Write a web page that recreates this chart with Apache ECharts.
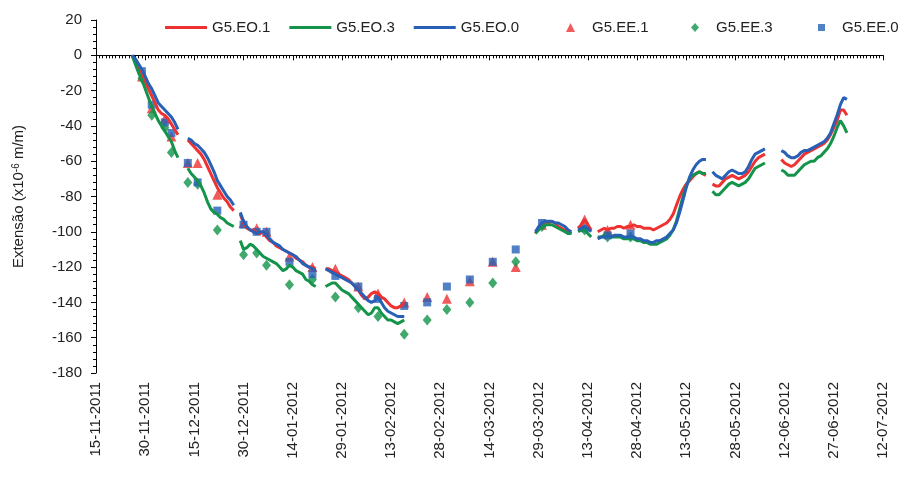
<!DOCTYPE html>
<html>
<head>
<meta charset="utf-8">
<script src="https://cdn.jsdelivr.net/npm/echarts@6/dist/echarts.min.js"></script>
<style>
  html, body { margin: 0; padding: 0; background: #ffffff; }
  #chart { width: 908px; height: 477px; }
</style>
</head>
<body>
<div id="chart"></div>
<script>
// Time span of the x axis (labels every 15 days)
const axisStart = '2011-11-15';
const axisEnd = '2012-07-12';
const tickStepDays = 15;

// Continuous records: each segment starts on the given date, one reading per day
const segmentStart = ['2011-11-26', '2011-12-13', '2011-12-29', '2012-01-24', '2012-03-28',
                      '2012-04-10', '2012-04-16', '2012-05-21', '2012-06-11'];

const eo1 = [
  [0, -4, -8, -11, -15, -19, -23, -27, -31, -33, -34, -36, -39, -42, -45],
  [-48, -50, -52, -54, -56, -59, -63, -67, -71, -75, -78, -81, -83, -86, -88],
  [-90, -95, -98, -99, -99, -101, -101, -100, -103, -105, -106, -108, -109, -110, -111, -112, -113, -115, -116, -117, -119, -120, -120, -121],
  [-121, -121, -122, -123, -124, -125, -126, -127, -129, -131, -133, -136, -138, -137, -135, -134, -135, -137, -138, -140, -142, -143, -143, -142, -140],
  [-101, -98, -96, -95, -95, -94, -95, -97, -98, -99, -100, -101],
  [-98, -96, -93, -96, -99],
  [-100, -99, -98, -99, -98, -98, -97, -97, -98, -97, -97, -96, -97, -97, -98, -98, -98, -99, -98, -97, -96, -95, -93, -90, -85, -80, -76, -73, -71, -69, -67, -66, -67, -68],
  [-73, -74, -74, -72, -70, -69, -68, -69, -70, -69, -68, -66, -63, -60, -58, -57, -56],
  [-59, -61, -62, -63, -62, -60, -58, -56, -55, -54, -53, -52, -51, -50, -48, -45, -41, -37, -31, -31, -34]
];

const eo3 = [
  [0, -5, -10, -14, -19, -24, -29, -33, -37, -40, -43, -46, -49, -54, -58],
  [-64, -67, -69, -71, -74, -78, -83, -87, -89, -90, -92, -93, -95, -96, -97],
  [-105, -110, -109, -107, -108, -110, -112, -114, -115, -116, -117, -118, -120, -122, -121, -119, -120, -122, -123, -124, -127, -128, -130, -131],
  [-131, -130, -129, -129, -131, -133, -134, -135, -137, -139, -141, -143, -145, -147, -146, -143, -143, -146, -148, -150, -150, -151, -152, -151, -150],
  [-101, -99, -97, -96, -96, -96, -97, -98, -99, -100, -101, -101],
  [-100, -99, -99, -101, -103],
  [-103, -103, -102, -102, -103, -103, -103, -103, -104, -104, -104, -104, -105, -105, -106, -106, -107, -107, -107, -106, -105, -104, -102, -99, -94, -87, -80, -74, -70, -68, -67, -66, -67, -67],
  [-77, -79, -79, -77, -75, -73, -72, -73, -74, -73, -72, -70, -67, -64, -63, -62, -61],
  [-65, -66, -68, -68, -68, -66, -64, -62, -61, -60, -60, -58, -57, -55, -53, -50, -46, -41, -37, -40, -44]
];

const eo0 = [
  [0, -2, -5, -8, -12, -16, -19, -23, -27, -29, -31, -33, -35, -38, -42],
  [-47, -48, -50, -51, -53, -55, -58, -62, -66, -71, -74, -77, -80, -82, -85],
  [-89, -94, -97, -99, -100, -101, -100, -100, -102, -104, -106, -107, -108, -110, -111, -112, -113, -114, -116, -118, -119, -120, -121, -122],
  [-121, -122, -123, -124, -125, -126, -127, -128, -129, -131, -133, -135, -137, -139, -140, -139, -137, -140, -143, -145, -146, -147, -148, -148, -148],
  [-100, -97, -95, -94, -94, -94, -95, -95, -96, -97, -99, -100],
  [-99, -98, -97, -98, -100],
  [-104, -103, -103, -102, -103, -102, -102, -102, -103, -103, -103, -103, -104, -104, -105, -105, -106, -106, -105, -105, -104, -103, -101, -99, -95, -89, -82, -75, -69, -65, -62, -60, -59, -59],
  [-66, -68, -69, -70, -68, -66, -65, -66, -67, -67, -66, -63, -59, -56, -55, -54, -53],
  [-54, -55, -57, -58, -58, -57, -55, -54, -54, -53, -52, -51, -50, -49, -47, -44, -39, -34, -28, -24, -25]
];

// Periodic spot readings
const markerDates = ['2011-11-29', '2011-12-02', '2011-12-06', '2011-12-08', '2011-12-13', '2011-12-16',
  '2011-12-22', '2011-12-30', '2012-01-03', '2012-01-06', '2012-01-13', '2012-01-20', '2012-01-27',
  '2012-02-03', '2012-02-09', '2012-02-17', '2012-02-24', '2012-03-01', '2012-03-08', '2012-03-15',
  '2012-03-22', '2012-03-30', '2012-04-12', '2012-04-19', '2012-04-26'];
const ee1 = [-12, -30, -36, -46, -61, -61, -79, -95, -98, -100, -114, -120, -121, -131, -135, -140, -137, -138, -128, -117, -120, -96, -93, -99, -96];
const ee3 = [-13, -34, -41, -55, -72, -73, -99, -113, -112, -119, -130, -127, -137, -143, -148, -158, -150, -144, -140, -129, -117, -97, -99, -103, -103];
const ee0 = [-9, -28, -38, -44, -61, -72, -88, -96, -100, -100, -117, -124, -125, -131, -138, -142, -140, -131, -127, -117, -110, -95, -98, -102, -101];

const lineNames = ['G5.EO.1', 'G5.EO.3', 'G5.EO.0'];
const markerNames = ['G5.EE.1', 'G5.EE.3', 'G5.EE.0'];
const markerSymbols = ['triangle', 'diamond', 'rect'];
const colors = ['#EE3131', '#13944A', '#2760B5'];

const DAY = 86400000;
const t0 = Date.parse(axisStart + 'T00:00:00Z');
const dayOf = s => Math.round((Date.parse(s + 'T00:00:00Z') - t0) / DAY);
const axisMaxDay = dayOf(axisEnd);

function fmtDay(d) {
  const t = new Date(t0 + d * DAY);
  const dd = String(t.getUTCDate()).padStart(2, '0');
  const mm = String(t.getUTCMonth() + 1).padStart(2, '0');
  return dd + '-' + mm + '-' + t.getUTCFullYear();
}

function lineData(segs) {
  const out = [];
  segs.forEach((vals, k) => {
    const s = dayOf(segmentStart[k]);
    vals.forEach((v, i) => out.push([s + i, v]));
    out.push([s + vals.length, '-']);
  });
  return out;
}
const markerData = vals => markerDates.map((d, i) => [dayOf(d), vals[i]]);

const font = 'Liberation Sans, Arial, Helvetica, sans-serif';
const legendText = { fontSize: 15, color: '#222', fontFamily: font };

// one legend per spot-reading series so each symbol keeps its own size and spacing
const markerLegendLeft = [561, 686, 813];
const markerLegends = markerNames.map((n, i) => ({
  data: [{ name: n, icon: markerSymbols[i] }],
  left: markerLegendLeft[i], top: 15,
  itemWidth: [9, 8, 7][i], itemHeight: [9, 9, 7][i],
  textStyle: Object.assign({ padding: [0, 0, 0, 12] }, legendText)
}));

const chart = echarts.init(document.getElementById('chart'), null, { renderer: 'canvas' });

chart.setOption({
  animation: false,
  backgroundColor: '#ffffff',
  textStyle: { fontFamily: font },
  grid: { left: 96, right: 25, top: 20, bottom: 104, containLabel: false },
  legend: [
    {
      data: lineNames,
      left: 160, top: 15,
      icon: 'rect', itemWidth: 42, itemHeight: 3, itemGap: 19,
      textStyle: legendText
    },
    ...markerLegends
  ],
  xAxis: {
    type: 'value',
    min: 0, max: axisMaxDay, interval: tickStepDays,
    axisLine: { show: true, lineStyle: { color: '#000', width: 1 } },
    axisTick: { show: true, length: 5, lineStyle: { color: '#000' } },
    minorTick: { show: true, splitNumber: tickStepDays, length: 3, lineStyle: { color: '#000' } },
    splitLine: { show: false },
    axisLabel: {
      rotate: 90, margin: 9, fontSize: 15, color: '#222', fontFamily: font,
      formatter: v => fmtDay(v)
    }
  },
  yAxis: {
    type: 'value',
    min: -180, max: 20, interval: 20,
    name: 'Extensão (x10{sup|-6} m/m)',
    nameLocation: 'middle', nameGap: 70, nameRotate: 90,
    nameTextStyle: {
      fontSize: 15, color: '#222', fontFamily: font,
      rich: { sup: { fontSize: 10, verticalAlign: 'top', color: '#222', fontFamily: font } }
    },
    axisLine: { show: true, lineStyle: { color: '#000', width: 1 } },
    axisTick: { show: true, length: 5, lineStyle: { color: '#000' } },
    minorTick: { show: true, splitNumber: 5, length: 3, lineStyle: { color: '#000' } },
    splitLine: { show: false },
    axisLabel: { margin: 14, fontSize: 15, color: '#222', fontFamily: font }
  },
  series: [
    ...[eo1, eo3, eo0].map((segs, i) => ({
      name: lineNames[i], type: 'line', data: lineData(segs),
      showSymbol: false, symbol: 'none', connectNulls: false,
      lineStyle: { color: colors[i], width: 3 }, itemStyle: { color: colors[i] }
    })),
    ...[ee1, ee3, ee0].map((vals, i) => ({
      name: markerNames[i], type: 'scatter', data: markerData(vals),
      symbol: markerSymbols[i],
      symbolSize: [[10, 10], [9, 11], [8, 8]][i],
      itemStyle: { color: colors[i] }
    }))
  ]
});
</script>
</body>
</html>
